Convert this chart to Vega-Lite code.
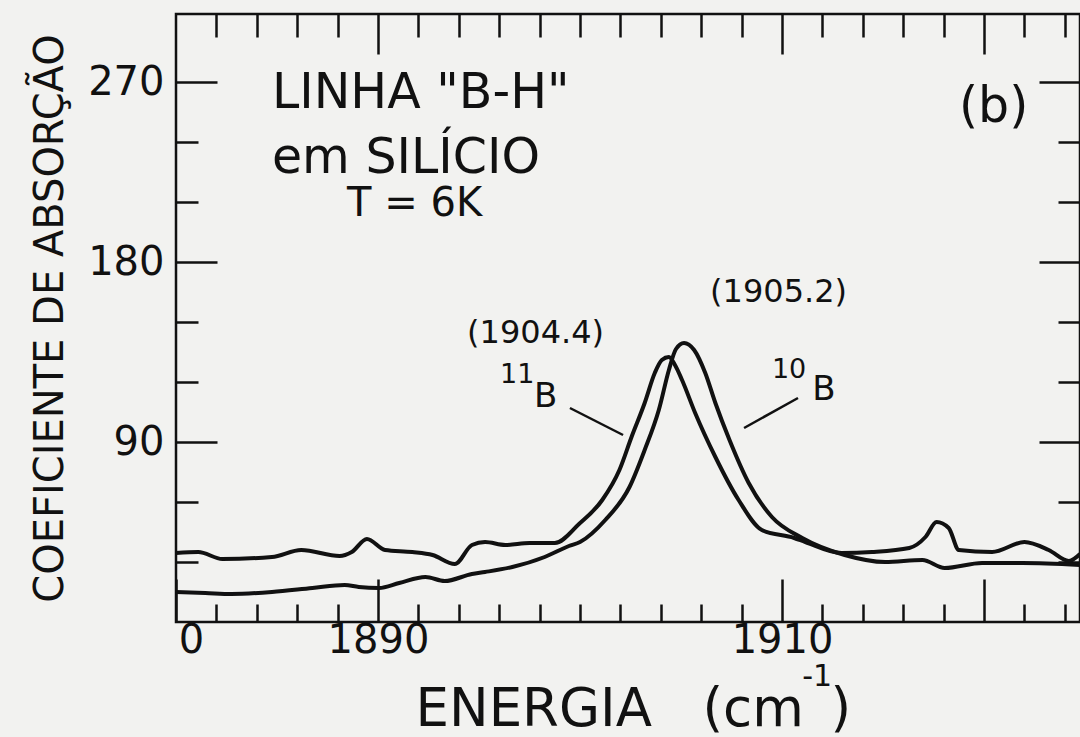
{
  "$schema": "https://vega.github.io/schema/vega-lite/v6.json",
  "width": 904,
  "height": 608,
  "autosize": {"type": "none"},
  "padding": {"left": 176, "top": 14, "right": 0, "bottom": 115},
  "background": "#f2f2f0",
  "config": {
    "view": {"stroke": "#111111", "strokeWidth": 2.5},
    "font": "DejaVu Sans",
    "axis": {
      "domain": false,
      "grid": false,
      "tickColor": "#111111",
      "tickWidth": 2.5,
      "labelColor": "#111111",
      "titleColor": "#111111",
      "labelFont": "DejaVu Sans",
      "titleFont": "DejaVu Sans",
      "titleFontWeight": "normal"
    },
    "text": {"font": "DejaVu Sans", "color": "#111111", "align": "left", "baseline": "alphabetic"}
  },
  "datasets": {
    "spectra": [
      {"isotope": "11B", "energy": 1880.0, "absorption": 34.5},
      {"isotope": "11B", "energy": 1881.1, "absorption": 35},
      {"isotope": "11B", "energy": 1882.3, "absorption": 31.5},
      {"isotope": "11B", "energy": 1884.75, "absorption": 32.5},
      {"isotope": "11B", "energy": 1886.2, "absorption": 36},
      {"isotope": "11B", "energy": 1888.1, "absorption": 33},
      {"isotope": "11B", "energy": 1888.7, "absorption": 35},
      {"isotope": "11B", "energy": 1889.45, "absorption": 41.5},
      {"isotope": "11B", "energy": 1890.35, "absorption": 36},
      {"isotope": "11B", "energy": 1891.7, "absorption": 35},
      {"isotope": "11B", "energy": 1892.7, "absorption": 33.5},
      {"isotope": "11B", "energy": 1893.8, "absorption": 29},
      {"isotope": "11B", "energy": 1894.65, "absorption": 38.5},
      {"isotope": "11B", "energy": 1895.3, "absorption": 40},
      {"isotope": "11B", "energy": 1896.3, "absorption": 38.5},
      {"isotope": "11B", "energy": 1897.5, "absorption": 39.5},
      {"isotope": "11B", "energy": 1898.75, "absorption": 39.5},
      {"isotope": "11B", "energy": 1899.95, "absorption": 49},
      {"isotope": "11B", "energy": 1901.1, "absorption": 61},
      {"isotope": "11B", "energy": 1901.95, "absorption": 76},
      {"isotope": "11B", "energy": 1902.55, "absorption": 92.5},
      {"isotope": "11B", "energy": 1903.2, "absorption": 109.5},
      {"isotope": "11B", "energy": 1903.7, "absorption": 124.5},
      {"isotope": "11B", "energy": 1904.05, "absorption": 131},
      {"isotope": "11B", "energy": 1904.4, "absorption": 132.5},
      {"isotope": "11B", "energy": 1904.7, "absorption": 128.5},
      {"isotope": "11B", "energy": 1905.05, "absorption": 121},
      {"isotope": "11B", "energy": 1905.7, "absorption": 104.5},
      {"isotope": "11B", "energy": 1906.7, "absorption": 82.5},
      {"isotope": "11B", "energy": 1907.85, "absorption": 61},
      {"isotope": "11B", "energy": 1909.0, "absorption": 46},
      {"isotope": "11B", "energy": 1910.6, "absorption": 42},
      {"isotope": "11B", "energy": 1911.15, "absorption": 40},
      {"isotope": "11B", "energy": 1912.95, "absorption": 34.5},
      {"isotope": "11B", "energy": 1914.45, "absorption": 35},
      {"isotope": "11B", "energy": 1916.3, "absorption": 37},
      {"isotope": "11B", "energy": 1917.1, "absorption": 42.5},
      {"isotope": "11B", "energy": 1917.65, "absorption": 50},
      {"isotope": "11B", "energy": 1918.25, "absorption": 47},
      {"isotope": "11B", "energy": 1918.75, "absorption": 36},
      {"isotope": "11B", "energy": 1920.4, "absorption": 35},
      {"isotope": "11B", "energy": 1922.0, "absorption": 40},
      {"isotope": "11B", "energy": 1923.2, "absorption": 36},
      {"isotope": "11B", "energy": 1924.2, "absorption": 30.5},
      {"isotope": "11B", "energy": 1924.75, "absorption": 34},
      {"isotope": "10B", "energy": 1880.0, "absorption": 15},
      {"isotope": "10B", "energy": 1881.45, "absorption": 14.5},
      {"isotope": "10B", "energy": 1882.75, "absorption": 14},
      {"isotope": "10B", "energy": 1884.75, "absorption": 15},
      {"isotope": "10B", "energy": 1886.75, "absorption": 17},
      {"isotope": "10B", "energy": 1888.35, "absorption": 18.5},
      {"isotope": "10B", "energy": 1889.05, "absorption": 17.5},
      {"isotope": "10B", "energy": 1890.05, "absorption": 17},
      {"isotope": "10B", "energy": 1891.05, "absorption": 19.5},
      {"isotope": "10B", "energy": 1892.35, "absorption": 22.5},
      {"isotope": "10B", "energy": 1893.3, "absorption": 20.5},
      {"isotope": "10B", "energy": 1894.65, "absorption": 24},
      {"isotope": "10B", "energy": 1895.3, "absorption": 25},
      {"isotope": "10B", "energy": 1896.65, "absorption": 27.5},
      {"isotope": "10B", "energy": 1898.25, "absorption": 32.5},
      {"isotope": "10B", "energy": 1899.45, "absorption": 38},
      {"isotope": "10B", "energy": 1900.0, "absorption": 40},
      {"isotope": "10B", "energy": 1901.25, "absorption": 51},
      {"isotope": "10B", "energy": 1902.45, "absorption": 67.5},
      {"isotope": "10B", "energy": 1903.2, "absorption": 86},
      {"isotope": "10B", "energy": 1903.9, "absorption": 106},
      {"isotope": "10B", "energy": 1904.4, "absorption": 126},
      {"isotope": "10B", "energy": 1904.75, "absorption": 136.5},
      {"isotope": "10B", "energy": 1905.15, "absorption": 139.5},
      {"isotope": "10B", "energy": 1905.65, "absorption": 136},
      {"isotope": "10B", "energy": 1906.2, "absorption": 124.5},
      {"isotope": "10B", "energy": 1906.7, "absorption": 109.5},
      {"isotope": "10B", "energy": 1907.4, "absorption": 91},
      {"isotope": "10B", "energy": 1908.35, "absorption": 69.5},
      {"isotope": "10B", "energy": 1909.5, "absorption": 52.5},
      {"isotope": "10B", "energy": 1911.0, "absorption": 42},
      {"isotope": "10B", "energy": 1913.1, "absorption": 33.5},
      {"isotope": "10B", "energy": 1915.1, "absorption": 30},
      {"isotope": "10B", "energy": 1916.95, "absorption": 31},
      {"isotope": "10B", "energy": 1918.05, "absorption": 27},
      {"isotope": "10B", "energy": 1919.9, "absorption": 29.5},
      {"isotope": "10B", "energy": 1921.9, "absorption": 29.5},
      {"isotope": "10B", "energy": 1924.75, "absorption": 28.5}
    ],
    "leaders": [
      {"isotope": "11B", "x1": 1899.5, "y1": 107, "x2": 1902.13, "y2": 93.5},
      {"isotope": "10B", "x1": 1908.12, "y1": 97, "x2": 1910.79, "y2": 112}
    ],
    "notes": [
      {"role": "heading", "label": "LINHA \"B-H\"", "energy": 1884.75, "absorption": 257},
      {"role": "heading", "label": "em SILÍCIO", "energy": 1884.75, "absorption": 224.5},
      {"role": "temp", "label": "T = 6K", "energy": 1888.47, "absorption": 203},
      {"role": "heading", "label": "(b)", "energy": 1918.76, "absorption": 250},
      {"role": "peak", "label": "(1904.4)", "energy": 1894.41, "absorption": 139.5},
      {"role": "peak", "label": "(1905.2)", "energy": 1906.44, "absorption": 160},
      {"role": "element", "label": "B", "energy": 1897.72, "absorption": 107.5},
      {"role": "element", "label": "B", "energy": 1911.49, "absorption": 111},
      {"role": "mass", "label": "11", "energy": 1896.04, "absorption": 119.5},
      {"role": "mass", "label": "10", "energy": 1909.5, "absorption": 122},
      {"role": "unit", "label": "-1", "energy": 1911.0, "absorption": -32}
    ]
  },
  "layer": [
    {
      "data": {"name": "spectra"},
      "mark": {"type": "line", "interpolate": "monotone", "strokeWidth": 4, "color": "#111111"},
      "encoding": {
        "x": {
          "field": "energy", "type": "quantitative",
          "scale": {"domain": [1880, 1924.75], "nice": false, "zero": false},
          "axis": {
            "orient": "bottom",
            "values": [1880, 1882, 1884, 1886, 1888, 1890, 1892, 1894, 1896, 1898, 1900, 1902, 1904, 1906, 1908, 1910, 1912, 1914, 1916, 1918, 1920, 1922, 1924],
            "format": "d",
            "labelExpr": "datum.value == 1880 ? '0' : ((datum.value == 1890 || datum.value == 1910) ? datum.label : '')",
            "tickSize": {"condition": {"test": "datum.value == 1880 || datum.value == 1890 || datum.value == 1910 || datum.value == 1920", "value": -43}, "value": -18},
            "labelFontSize": 40,
            "labelPadding": 41,
            "labelFlush": false,
            "labelOverlap": false,
            "labelOffset": {"condition": {"test": "datum.value == 1880", "value": 15}, "value": 0},
            "title": "ENERGIA\u00a0\u00a0\u00a0(cm\u2002)",
            "titleFontSize": 53,
            "titleX": 239,
            "titleY": 103,
            "titleAlign": "left",
            "titleBaseline": "alphabetic"
          }
        },
        "y": {
          "field": "absorption", "type": "quantitative",
          "scale": {"domain": [0, 304], "nice": false, "zero": false},
          "axis": {
            "orient": "left",
            "values": [30, 60, 90, 120, 150, 180, 210, 240, 270],
            "labelExpr": "datum.value % 90 === 0 ? datum.label : ''",
            "tickSize": {"condition": {"test": "datum.value % 90 === 0", "value": -41}, "value": -22},
            "labelFontSize": 40,
            "labelPadding": 53,
            "labelOverlap": false,
            "title": "COEFICIENTE DE ABSORÇÃO",
            "titleFontSize": 40,
            "titleAngle": 270,
            "titleX": -126,
            "titleY": 304,
            "titleAlign": "center",
            "titleBaseline": "middle"
          }
        },
        "detail": {"field": "isotope"}
      }
    },
    {
      "data": {"name": "leaders"},
      "mark": {"type": "rule", "strokeWidth": 2.5, "color": "#111111"},
      "encoding": {
        "x": {
          "field": "x1", "type": "quantitative",
          "scale": {"domain": [1880, 1924.75], "nice": false, "zero": false},
          "axis": {
            "orient": "top",
            "values": [1882, 1884, 1886, 1888, 1890, 1892, 1894, 1896, 1898, 1900, 1902, 1904, 1906, 1908, 1910, 1912, 1914, 1916, 1918, 1920, 1922, 1924],
            "labels": false,
            "tickSize": {"condition": {"test": "datum.value == 1890 || datum.value == 1910 || datum.value == 1920", "value": -40}, "value": -23},
            "title": null
          }
        },
        "y": {
          "field": "y1", "type": "quantitative",
          "scale": {"domain": [0, 304], "nice": false, "zero": false},
          "axis": {
            "orient": "right",
            "values": [30, 60, 90, 120, 150, 180, 210, 240, 270],
            "labels": false,
            "tickSize": {"condition": {"test": "datum.value % 90 === 0", "value": -41}, "value": -22},
            "title": null
          }
        },
        "x2": {"field": "x2"},
        "y2": {"field": "y2"}
      }
    },
    {
      "data": {"name": "notes"},
      "transform": [{"filter": "datum.role === 'heading'"}],
      "mark": {"type": "text", "fontSize": 49},
      "encoding": {
        "x": {"field": "energy", "type": "quantitative", "scale": {"domain": [1880, 1924.75], "nice": false, "zero": false}, "axis": null},
        "y": {"field": "absorption", "type": "quantitative", "scale": {"domain": [0, 304], "nice": false, "zero": false}, "axis": null},
        "text": {"field": "label"}
      }
    },
    {
      "data": {"name": "notes"},
      "transform": [{"filter": "datum.role === 'temp'"}],
      "mark": {"type": "text", "fontSize": 40},
      "encoding": {
        "x": {"field": "energy", "type": "quantitative", "scale": {"domain": [1880, 1924.75], "nice": false, "zero": false}, "axis": null},
        "y": {"field": "absorption", "type": "quantitative", "scale": {"domain": [0, 304], "nice": false, "zero": false}, "axis": null},
        "text": {"field": "label"}
      }
    },
    {
      "data": {"name": "notes"},
      "transform": [{"filter": "datum.role === 'peak'"}],
      "mark": {"type": "text", "fontSize": 32},
      "encoding": {
        "x": {"field": "energy", "type": "quantitative", "scale": {"domain": [1880, 1924.75], "nice": false, "zero": false}, "axis": null},
        "y": {"field": "absorption", "type": "quantitative", "scale": {"domain": [0, 304], "nice": false, "zero": false}, "axis": null},
        "text": {"field": "label"}
      }
    },
    {
      "data": {"name": "notes"},
      "transform": [{"filter": "datum.role === 'element'"}],
      "mark": {"type": "text", "fontSize": 34},
      "encoding": {
        "x": {"field": "energy", "type": "quantitative", "scale": {"domain": [1880, 1924.75], "nice": false, "zero": false}, "axis": null},
        "y": {"field": "absorption", "type": "quantitative", "scale": {"domain": [0, 304], "nice": false, "zero": false}, "axis": null},
        "text": {"field": "label"}
      }
    },
    {
      "data": {"name": "notes"},
      "transform": [{"filter": "datum.role === 'mass'"}],
      "mark": {"type": "text", "fontSize": 27},
      "encoding": {
        "x": {"field": "energy", "type": "quantitative", "scale": {"domain": [1880, 1924.75], "nice": false, "zero": false}, "axis": null},
        "y": {"field": "absorption", "type": "quantitative", "scale": {"domain": [0, 304], "nice": false, "zero": false}, "axis": null},
        "text": {"field": "label"}
      }
    },
    {
      "data": {"name": "notes"},
      "transform": [{"filter": "datum.role === 'unit'"}],
      "mark": {"type": "text", "fontSize": 30},
      "encoding": {
        "x": {"field": "energy", "type": "quantitative", "scale": {"domain": [1880, 1924.75], "nice": false, "zero": false}, "axis": null},
        "y": {"field": "absorption", "type": "quantitative", "scale": {"domain": [0, 304], "nice": false, "zero": false}, "axis": null},
        "text": {"field": "label"}
      }
    }
  ],
  "resolve": {"axis": {"x": "independent", "y": "independent"}}
}
